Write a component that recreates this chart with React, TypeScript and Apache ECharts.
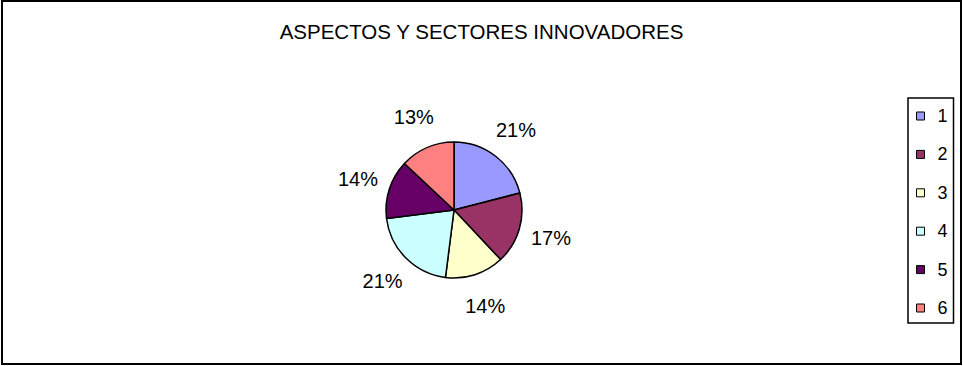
import React, { useEffect, useRef } from "react";
import * as echarts from "echarts";

const titleText = "ASPECTOS Y SECTORES INNOVADORES";
const categories = ["1", "2", "3", "4", "5", "6"];
const values = [21, 17, 14, 21, 14, 13];
const colors = ["#9999FF", "#993366", "#FFFFCC", "#CCFFFF", "#660066", "#FF8080"];

const FONT = "'Liberation Sans', Arial, sans-serif";

export default function App() {
  const ref = useRef<HTMLDivElement>(null);
  useEffect(() => {
    document.body.style.margin = "0";
    const chart = echarts.init(ref.current!, null, { renderer: "svg" });
    const data = categories.map((c, i) => ({
      name: c,
      value: values[i],
      itemStyle: { color: colors[i] },
    }));
    chart.setOption({
      animation: false,
      backgroundColor: "#ffffff",
      title: {
        text: titleText,
        left: "center",
        top: 16,
        textStyle: { fontFamily: FONT, fontSize: 20.5, fontWeight: "normal", color: "#000" },
      },
      legend: {
        orient: "vertical",
        left: 908,
        top: 98,
        data: categories.map((c, i) => ({ name: c, itemStyle: { color: colors[i], borderColor: "#000", borderWidth: 1 } })),
        icon: "rect",
        itemWidth: 8,
        itemHeight: 8,
        itemGap: 20.4,
        padding: [9, 6, 6, 8],
        borderColor: "#000",
        borderWidth: 1.5,
        selectedMode: false,
        textStyle: { fontFamily: FONT, fontSize: 18, color: "#000", lineHeight: 18, padding: [0, 0, 0, 8] },
      },
      graphic: [
        {
          type: "rect",
          shape: { x: 2, y: 1, width: 959, height: 363 },
          style: { fill: "none", stroke: "#000", lineWidth: 2 },
          silent: true,
          z: 100,
        },
      ],
      series: [
        {
          type: "pie",
          center: [454, 210],
          radius: [0, 68],
          startAngle: 90,
          clockwise: true,
          data,
          label: { show: false },
          labelLine: { show: false },
          itemStyle: { borderColor: "#000", borderWidth: 1.5 },
          silent: true,
        },
        {
          type: "pie",
          center: [454, 210],
          radius: [0, 196],
          startAngle: 90,
          clockwise: true,
          data: categories.map((c, i) => ({ name: c, value: values[i] })),
          itemStyle: { color: "rgba(0,0,0,0)", borderWidth: 0 },
          label: {
            show: true,
            position: "inside",
            formatter: "{d}%",
            fontFamily: FONT,
            fontSize: 20,
            color: "#000",
          },
          labelLine: { show: false },
          silent: true,
          z: 1,
        },
      ],
    });
    return () => chart.dispose();
  }, []);
  return <div ref={ref} style={{ width: 963, height: 366 }} />;
}
